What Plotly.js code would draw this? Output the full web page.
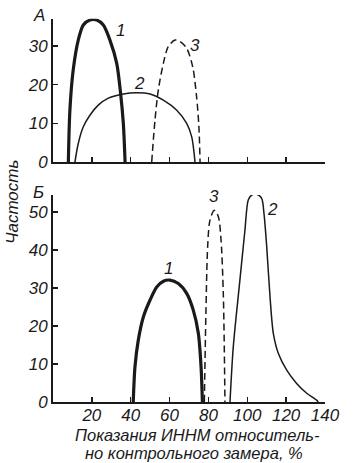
<!DOCTYPE html>
<html>
<head>
<meta charset="utf-8">
<script src="https://cdn.plot.ly/plotly-3.0.1.min.js"></script>
<style>html,body{margin:0;padding:0;background:#fff;}#chart{width:355px;height:463px;}</style>
</head>
<body>
<div id="chart"></div>
<script>
// Panel A (top)
const a1x = [7.9, 8.7, 10.4, 13.0, 15.6, 19.0, 22.5, 25.9, 29.3, 32.8, 34.8, 36.2, 37.1];
const a1y = [0, 13.4, 23.8, 31.5, 35.4, 36.7, 36.7, 35.4, 31.5, 25.5, 17.7, 10.0, 0];
const a2x = [11.3, 13.0, 15.6, 19.0, 23.3, 28.5, 36.2, 43.1, 50.0, 56.8, 63.7, 68.8, 71.4, 73.1];
const a2y = [0, 4.8, 9.1, 12.1, 14.7, 16.5, 17.6, 17.9, 17.6, 16.0, 13.4, 10.0, 6.5, 0];
const a3x = [50.8, 52.5, 54.2, 56.8, 59.3, 62.8, 65.4, 68.8, 71.9, 73.9, 75.1, 75.7];
const a3y = [0, 10.9, 18.6, 25.5, 29.8, 31.5, 31.1, 29.4, 24.6, 16.9, 9.1, 0];

// Panel Б (bottom)
const b1x = [41.3, 42.2, 43.9, 46.5, 49.9, 53.4, 56.8, 60.2, 64.5, 68.8, 72.2, 74.8, 76.2, 76.9];
const b1y = [0, 9.3, 16.3, 22.4, 26.8, 30.3, 31.8, 32.1, 31.2, 28.6, 24.2, 18.1, 9.3, 0];
const b2x = [91.1, 92.8, 96.2, 98.8, 100.5, 102.3, 104.8, 107.4, 108.6, 110.0, 111.7, 113.4, 116.0, 120.3, 125.4, 130.6, 135.7, 136.5];
const b2y = [0, 14.6, 32.1, 45.3, 53.2, 54.5, 54.7, 53.6, 49.6, 40.9, 27.7, 18.1, 12.8, 8.4, 4.9, 2.3, 0.5, 0];
const b3x = [77.9, 78.7, 79.6, 80.8, 83.0, 85.1, 86.5, 87.7, 88.5];
const b3y = [0, 23.3, 40.9, 47.9, 50.5, 48.8, 42.6, 27.7, 0];

const xTicks = [20, 40, 60, 80, 100, 120, 140];
const yTicksA = [0, 10, 20, 30];
const yTicksB = [0, 10, 20, 30, 40, 50];

const curveLabelsA = [{t:'1', x:34.5, y:33.9}, {t:'2', x:44.4, y:20.2}, {t:'3', x:73.1, y:30.2}];
const curveLabelsB = [{t:'1', x:59.3, y:35.2}, {t:'3', x:82.9, y:54.2}, {t:'2', x:113.1, y:50.7}];

const ink = '#1a1a1a';
const fnt = {family:'Liberation Sans, Arial, sans-serif', size:17, color:ink, style:'italic'};
const titleFnt = {family:'Liberation Sans, Arial, sans-serif', size:16.5, color:ink, style:'italic'};

function tr(x, y, w, dash, xa, ya) {
  return {x:x, y:y, xaxis:xa, yaxis:ya, type:'scatter', mode:'lines',
    line:{color:ink, width:w, dash:dash, shape:'spline', smoothing:0.8},
    hoverinfo:'skip', cliponaxis:false};
}

const data = [
  tr(a1x, a1y, 3.2, 'solid', 'x2', 'y2'),
  tr(a2x, a2y, 1.5, 'solid', 'x2', 'y2'),
  tr(a3x, a3y, 1.5, '7px,4px', 'x2', 'y2'),
  tr(b1x, b1y, 3.2, 'solid', 'x', 'y'),
  tr(b2x, b2y, 1.5, 'solid', 'x', 'y'),
  tr(b3x, b3y, 1.5, '7px,4px', 'x', 'y')
];

const axisBase = {showline:true, linewidth:2, linecolor:ink, showgrid:false, zeroline:false,
  ticks:'inside', ticklen:5, tickwidth:1.5, tickcolor:ink, tickfont:fnt, fixedrange:true};

const annotations = [];
curveLabelsA.forEach(l => annotations.push({text:l.t, x:l.x, y:l.y, xref:'x2', yref:'y2', showarrow:false, font:fnt}));
curveLabelsB.forEach(l => annotations.push({text:l.t, x:l.x, y:l.y, xref:'x', yref:'y', showarrow:false, font:fnt}));
annotations.push({text:'А', x:-0.0515, y:0.9676, xref:'paper', yref:'paper', showarrow:false, font:fnt, xanchor:'center', yanchor:'middle'});
annotations.push({text:'Б', x:-0.055, y:0.5853, xref:'paper', yref:'paper', showarrow:false, font:fnt, xanchor:'center', yanchor:'middle'});
annotations.push({text:'Частость', x:-0.1507, y:0.5637, xref:'paper', yref:'paper', showarrow:false, font:fnt, textangle:-90, xanchor:'center', yanchor:'middle'});
annotations.push({text:'Показания ИННМ относитель-', x:0.53, y:(463-435)/463, xref:'paper', yref:'paper', showarrow:false, font:titleFnt, xanchor:'center', yanchor:'middle'});
annotations.push({text:'но контрольного замера, %', x:0.52, y:(463-453)/463, xref:'paper', yref:'paper', showarrow:false, font:titleFnt, xanchor:'center', yanchor:'middle'});

const layout = {
  width:355, height:463,
  margin:{l:53, r:30, t:0, b:0},
  paper_bgcolor:'#fff', plot_bgcolor:'#fff',
  showlegend:false,
  font:fnt,
  xaxis:Object.assign({}, axisBase, {domain:[0,1], range:[0,140], tickvals:xTicks, ticktext:xTicks.map(String), anchor:'y', ticklabelstandoff:-3}),
  yaxis:Object.assign({}, axisBase, {domain:[0.1317, 0.5788], range:[0,54.5], tickvals:yTicksB, ticktext:yTicksB.map(String), anchor:'x'}),
  xaxis2:Object.assign({}, axisBase, {domain:[0,1], range:[0,140], tickvals:xTicks, showticklabels:false, anchor:'y2'}),
  yaxis2:Object.assign({}, axisBase, {domain:[0.650, 0.9594], range:[0,37], tickvals:yTicksA, ticktext:yTicksA.map(String), anchor:'x2'}),
  annotations:annotations
};

Plotly.newPlot('chart', data, layout, {staticPlot:true, displayModeBar:false});
</script>
</body>
</html>
